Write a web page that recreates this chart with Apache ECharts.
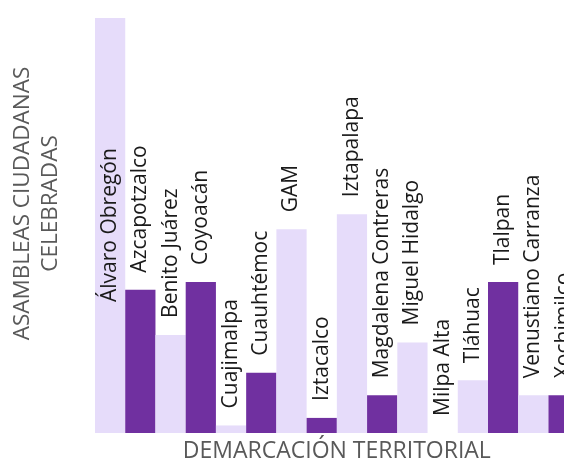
<!DOCTYPE html>
<html>
<head>
<meta charset="utf-8">
<script src="https://cdn.jsdelivr.net/npm/echarts@6/dist/echarts.min.js"></script>
<style>
  html, body { margin: 0; padding: 0; background: #fff; }
  #chart { width: 564px; height: 462px; }
</style>
</head>
<body>
<div id="chart"></div>
<script>
const demarcaciones = [
  'Álvaro Obregón', 'Azcapotzalco', 'Benito Juárez', 'Coyoacán',
  'Cuajimalpa', 'Cuauhtémoc', 'GAM', 'Iztacalco', 'Iztapalapa',
  'Magdalena Contreras', 'Miguel Hidalgo', 'Milpa Alta', 'Tláhuac',
  'Tlalpan', 'Venustiano Carranza', 'Xochimilco'
];
const asambleas = [55, 19, 13, 20, 1, 8, 27, 2, 29, 5, 12, 0, 7, 20, 5, 5];

const lightColor = '#E6DCFA';
const darkColor = '#7030A0';
const fontFamily = '"Open Sans", sans-serif';

document.addEventListener('DOMContentLoaded', () => {
  const chart = echarts.init(document.getElementById('chart'));

  // the tallest bar has no room above it, so its label sits inside
  const data = asambleas.map((value, i) => {
    const item = { value, itemStyle: { color: i % 2 === 0 ? lightColor : darkColor } };
    if (i === 0) {
      item.label = { position: 'insideBottom', distance: 131 };
    }
    return item;
  });

  const option = {
    animation: false,
    grid: { left: 95, right: -14.7, top: 18, bottom: 29, outerBoundsMode: 'none' },
    xAxis: {
      type: 'category',
      data: demarcaciones,
      name: 'DEMARCACIÓN TERRITORIAL',
      nameLocation: 'middle',
      nameGap: 7,
      nameTextStyle: { color: '#595959', fontSize: 23, fontFamily },
      axisLine: { show: false },
      axisTick: { show: false },
      axisLabel: { show: false }
    },
    yAxis: {
      type: 'value',
      min: 0,
      max: 55,
      name: 'ASAMBLEAS CIUDADANAS\nCELEBRADAS',
      nameLocation: 'middle',
      nameGap: 30,
      nameRotate: 90,
      nameTextStyle: {
        color: '#595959', fontSize: 22.5, fontFamily, lineHeight: 28,
        align: 'center', padding: [0, 0, 0, 44]
      },
      axisLine: { show: false },
      axisTick: { show: false },
      axisLabel: { show: false },
      splitLine: { show: false }
    },
    series: [{
      type: 'bar',
      data,
      barCategoryGap: 0,
      label: {
        show: true,
        position: 'top',
        distance: 17,
        rotate: 90,
        align: 'left',
        verticalAlign: 'middle',
        formatter: p => p.name,
        color: '#1a1a1a',
        fontSize: 21,
        fontFamily
      }
    }]
  };

  chart.setOption(option);
});
</script>
</body>
</html>
